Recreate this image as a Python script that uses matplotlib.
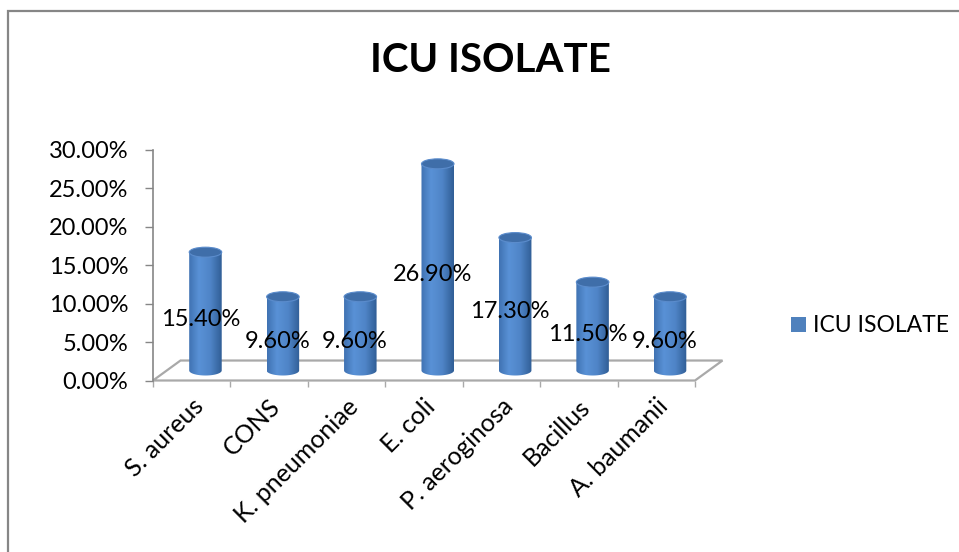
import numpy as np
import matplotlib
matplotlib.use('Agg')
import matplotlib.pyplot as plt
from matplotlib.patches import Polygon, Rectangle, Ellipse, PathPatch
from matplotlib.path import Path

plt.rcParams['font.family'] = ['Lato', 'DejaVu Sans']

categories = ['S. aureus', 'CONS', 'K. pneumoniae', 'E. coli', 'P. aeroginosa', 'Bacillus', 'A. baumanii']
values = [15.4, 9.6, 9.6, 26.9, 17.3, 11.5, 9.6]
yticks = [0, 5, 10, 15, 20, 25, 30]
series_name = 'ICU ISOLATE'

W, H = 959, 552
fig = plt.figure(figsize=(W / 100, H / 100), dpi=100)
ax = fig.add_axes([153 / W, (H - 380.5) / H, 542 / W, 230.5 / H])

# 3d depth of the floor (in data units)
dx, dy = 0.355, 2.6
bw = 0.42      # cylinder width
eh = 1.3       # ellipse height

grey = '#868686'

floor = Polygon([(0, 0), (len(categories), 0), (len(categories) + dx, dy), (dx, dy)],
                closed=True, facecolor='white', edgecolor='#a9a9a9', lw=1.6,
                clip_on=False, zorder=1)
ax.add_patch(floor)

# shading across the cylinder
stops_t = [0.0, 0.3, 0.65, 1.0]
stops_c = np.array([[0.25, 0.45, 0.70], [0.35, 0.57, 0.84], [0.31, 0.52, 0.78], [0.19, 0.37, 0.59]])
t = np.linspace(0, 1, 64)
grad = np.stack([np.interp(t, stops_t, stops_c[:, k]) for k in range(3)], axis=-1)[None, :, :]

for i, v in enumerate(values):
    xc = i + 0.5 + dx / 2
    yb = dy / 2
    yt = yb + v
    x0, x1 = xc - bw / 2, xc + bw / 2
    # side: rectangle + lower half ellipse
    n = 40
    ang = np.linspace(np.pi, 2 * np.pi, n)
    verts = [(x0, yt)] + [(xc + bw / 2 * np.cos(a), yb + eh / 2 * np.sin(a)) for a in ang] + [(x1, yt), (x0, yt)]
    codes = [Path.MOVETO] + [Path.LINETO] * n + [Path.LINETO, Path.CLOSEPOLY]
    side = PathPatch(Path(verts, codes), facecolor='none', edgecolor='none', clip_on=False)
    ax.add_patch(side)
    im = ax.imshow(grad, extent=[x0, x1, yb - eh / 2, yt], aspect='auto', zorder=2,
                   interpolation='bilinear')
    im.set_clip_path(side)
    top = Ellipse((xc, yt), bw, eh, facecolor='#3f6ea9', edgecolor='#5b8ccc', lw=0.8,
                  zorder=3, clip_on=False)
    ax.add_patch(top)
    ax.text(i + 0.5 + 0.11, v / 2 + 0.3, f'{v:.2f}%', ha='center', va='center',
            fontsize=17, color='black', zorder=4, clip_on=False)

ax.set_xlim(0, len(categories))
ax.set_ylim(0, 30)

# axes styling
for s in ['top', 'right', 'bottom']:
    ax.spines[s].set_visible(False)
ax.spines['left'].set_color(grey)
ax.spines['left'].set_linewidth(1.2)
ax.set_yticks(yticks)
ax.set_yticklabels([f'{v:.2f}%' for v in yticks])
ax.tick_params(axis='y', direction='out', length=5.8, width=1, color=grey,
               pad=12, labelsize=17)

ax.set_xticks(np.arange(len(categories)) + 0.6)
ax.set_xticklabels(categories)
ax.set_xticks(np.arange(len(categories) + 1), minor=True)
ax.tick_params(axis='x', which='major', length=0, pad=16, labelsize=18)
ax.tick_params(axis='x', which='minor', direction='out', length=4.5, width=1, color='#a9a9a9')
for lab in ax.get_xticklabels():
    lab.set_rotation(45)
    lab.set_ha('right')
    lab.set_va('center')
    lab.set_rotation_mode('anchor')

ax.patch.set_visible(False)

# legend
handle = Rectangle((0, 0), 1, 1, facecolor='#4f81bd', edgecolor='none')
fig.legend([handle], [series_name], loc='center left',
           bbox_to_anchor=(791 / W, 1 - 326 / H), frameon=False, fontsize=16.5,
           handlelength=0.66, handleheight=0.66, handletextpad=0.3,
           borderpad=0, borderaxespad=0)

fig.text(490 / W, 1 - 61 / H, 'ICU ISOLATE', ha='center', va='center',
         fontsize=29, fontweight='bold')

# chart border
fig.patches.append(Rectangle((8 / W, -0.1), 1.2, (H - 11) / H + 0.1, transform=fig.transFigure,
                             facecolor='none', edgecolor=grey, lw=1.6, zorder=0))

fig.savefig('out.png', dpi=100)
